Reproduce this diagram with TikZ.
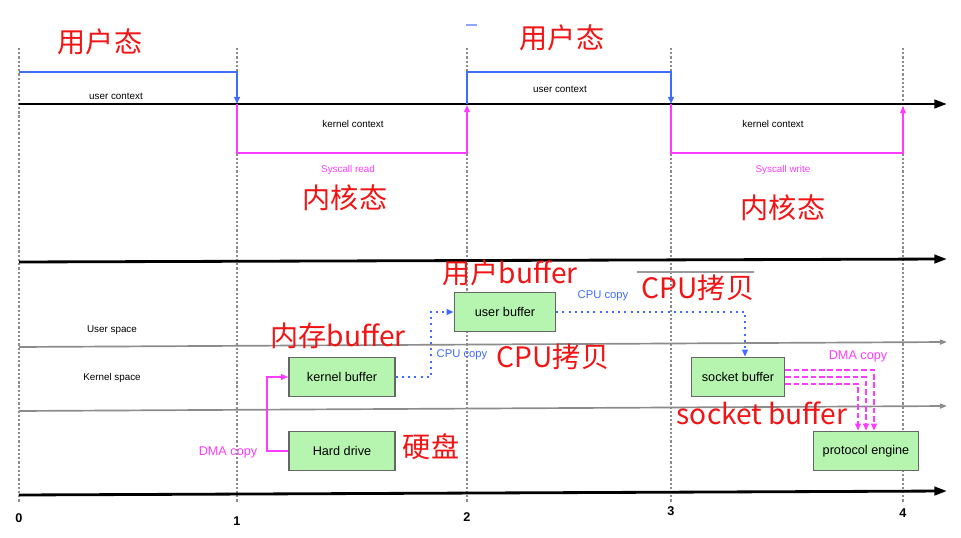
\documentclass[tikz,border=0pt]{standalone}
\usepackage{fontspec}
\setmainfont{Liberation Sans}
\newfontfamily\cjkfont{Noto Sans CJK SC}
\usepackage{tikz}
\usetikzlibrary{arrows.meta}

\definecolor{ctxblue}{HTML}{3F6BFF}
\definecolor{sysmag}{HTML}{FF3BFF}
\definecolor{boxgreen}{HTML}{B6F5AF}
\definecolor{notered}{HTML}{F21414}

\begin{document}
\begin{tikzpicture}[x=0.025cm, y=-0.025cm, font=\fontsize{7}{8}\selectfont,
  axis/.style={line width=2pt, -{Triangle[length=9pt,width=6pt]}},
  lane/.style={black!45, line width=1.2pt, -{Triangle[length=5pt,width=3.5pt,fill=black!70]}},
  tick/.style={black!45, line width=0.9pt, dash pattern=on 1.6pt off 1.4pt},
  ctx/.style={ctxblue, line width=1.4pt, -{Triangle[length=5pt,width=4pt]}},
  sys/.style={sysmag, line width=1.2pt, -{Triangle[length=5pt,width=4pt]}},
  buf/.style={draw=black!60, fill=boxgreen, line width=1.1pt, inner sep=0pt,
    minimum height=0.975cm, font=\fontsize{9}{10}\selectfont},
  cpucopy/.style={ctxblue, line width=1.3pt, dash pattern=on 1.4pt off 3pt,
    -{Triangle[length=5pt,width=4pt]}},
  dmacopy/.style={sysmag, line width=1.2pt, -{Triangle[length=5pt,width=4pt]}},
  zh/.style={notered, font=\cjkfont\fontsize{20}{24}\selectfont, inner sep=0pt}]
  \useasboundingbox (0,0) rectangle (961,538);

  % time marks
  \foreach \x/\t/\ty in {19/0/518, 237/1/521, 467/2/517, 671/3/511, 903/4/513} {
    \draw[tick] (\x,48) -- (\x,502);
    \node[font=\fontsize{9}{10}\selectfont\bfseries] (tick\t) at (\x,\ty) {\t};
  }

  % axes
  \draw[axis] (19,104) -- (947,104);
  \draw[axis] (19,262) -- (947,259);
  \draw[axis] (19,495) -- (947,491);
  \draw[lane] (19,347) -- (947,342);
  \draw[lane] (19,411) -- (947,406);

  % context switches
  \draw[ctx] (19,72) -- (237,72) -- (237,104);
  \draw[ctx] (467,104) -- (467,72) -- (671,72) -- (671,104);
  \draw[sys] (237,104) -- (237,153) -- (467,153) -- (467,105);
  \draw[sys] (671,104) -- (671,153) -- (903,153) -- (903,106);

  \node (uc1) at (116,96) {user context};
  \node (uc2) at (560,89) {user context};
  \node (kc1) at (353,124) {kernel context};
  \node (kc2) at (773,124) {kernel context};
  \node[sysmag] (sread) at (348,170) {Syscall read};
  \node[sysmag] (swrite) at (783,170) {Syscall write};

  \node[zh] (user1) at (100,42) {用户态};
  \node[zh] (user2) at (562,38) {用户态};
  \node[zh] (kern1) at (345,198) {内核态};
  \node[zh] (kern2) at (783,208) {内核态};

  % spaces
  \node (uspace) at (112,330) {User space};
  \node (kspace) at (112,378) {Kernel space};

  % buffers
  \node[buf, minimum width=2.65cm]  (kbuf) at (342,377) {kernel buffer};
  \node[buf, minimum width=2.65cm]  (disk) at (342,451) {Hard drive};
  \node[buf, minimum width=2.525cm] (ubuf) at (505,312) {user buffer};
  \node[buf, minimum width=2.325cm] (sbuf) at (738,377) {socket buffer};
  \node[buf, minimum width=2.625cm] (peng) at (866,451) {protocol engine};

  % copies
  \draw[dmacopy] (disk.west) -- ++(-21,0) |- (kbuf.west);
  \draw[cpucopy] (kbuf.east) -- ++(35,0) |- (ubuf.west);
  \draw[cpucopy] (ubuf.east) -| ([xshift=0.175cm]sbuf.north);
  \foreach \d in {-1,0,1}
    \draw[dmacopy, dash pattern=on 4pt off 2pt]
      ([yshift=\d*0.18cm]sbuf.east) -| ([xshift=\d*0.2cm]peng.north);

  \node[sysmag, font=\fontsize{9}{10}\selectfont] (dma1) at (228,452) {DMA copy};
  \node[ctxblue, font=\fontsize{8}{9}\selectfont] (cpu1) at (462,355) {CPU copy};
  \node[ctxblue, font=\fontsize{8}{9}\selectfont] (cpu2) at (603,296) {CPU copy};
  \node[sysmag, font=\fontsize{9}{10}\selectfont] (dma2) at (858,356) {DMA copy};

  % notes
  \node[zh] (nkbuf) at (338,336) {内存buffer};
  \node[zh] (nubuf) at (510,273) {用户buffer};
  \node[zh] (ncpu2) at (698,288) {CPU拷贝};
  \node[zh] (ncpu1) at (553,357) {CPU拷贝};
  \node[zh] (nsbuf) at (762,413) {socket buffer};
  \node[zh] (ndisk) at (431,447) {硬盘};
  \draw[black!40, line width=1pt] (637,272) -- (754,272);
  \draw[ctxblue!60, line width=1pt] (466,25) -- (477,25);
\end{tikzpicture}
\end{document}
